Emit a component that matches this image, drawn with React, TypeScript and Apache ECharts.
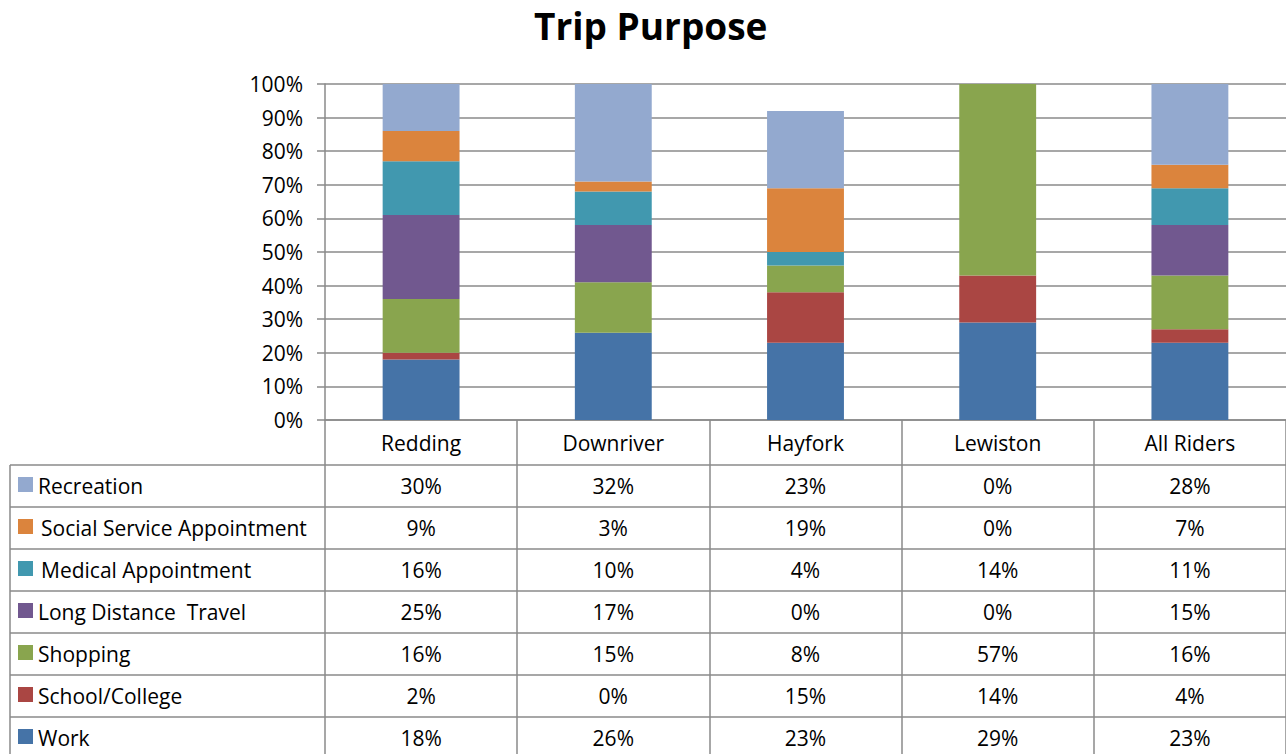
import React, { useEffect, useRef } from "react";
import * as echarts from "echarts";

const title = "Trip Purpose";
const categories = ["Redding", "Downriver", "Hayfork", "Lewiston", "All Riders"];
const yTicks = [0, 10, 20, 30, 40, 50, 60, 70, 80, 90, 100];

// stacked bottom to top
const work = [18, 26, 23, 29, 23];
const school = [2, 0, 15, 14, 4];
const shopping = [16, 15, 8, 57, 16];
const longDistance = [25, 17, 0, 0, 15];
const medical = [16, 10, 4, 14, 11];
const social = [9, 3, 19, 0, 7];
const recreation = [30, 32, 23, 0, 28];

const seriesNames = [
  "Work",
  "School/College",
  "Shopping",
  "Long Distance  Travel",
  "Medical Appointment",
  "Social Service Appointment",
  "Recreation",
];
const seriesData = [work, school, shopping, longDistance, medical, social, recreation];
const colors = ["#4573A7", "#AA4643", "#89A54E", "#71588F", "#4198AF", "#DB843D", "#93A9CF"];
const labelIndent = [0, 0, 0, 0, 3, 3, 0];

const FONT = "'Open Sans', sans-serif";
const FS = 21;
const GRID_COLOR = "#8a8a8a";

export default function App() {
  const ref = useRef<HTMLDivElement>(null);
  useEffect(() => {
    if (!ref.current) return;
    const chart = echarts.init(ref.current, null, { renderer: "svg" });
    const gridLeft = 325;
    const gridTop = 84;
    const gridBottomY = 420;
    const H = 754;
    const W = 1286;
    const option: any = {
      animation: false,
      backgroundColor: "#ffffff",
      title: {
        text: title,
        left: 529,
        top: 2,
        textStyle: { fontFamily: FONT, fontSize: 37, fontWeight: "bold", color: "#000" },
      },
      grid: { left: gridLeft, right: 0, top: gridTop, bottom: H - gridBottomY, containLabel: false },
      xAxis: {
        type: "category",
        data: categories,
        axisLine: { show: true, lineStyle: { color: GRID_COLOR, width: 1.5 } },
        axisTick: { show: true, interval: 0, length: H - gridBottomY, lineStyle: { color: GRID_COLOR, width: 1.5 } },
        axisLabel: { interval: 0, margin: 12, fontFamily: FONT, fontSize: FS, color: "#000" },
      },
      yAxis: {
        type: "value",
        min: yTicks[0],
        max: yTicks[yTicks.length - 1],
        interval: 10,
        axisLine: { show: true, lineStyle: { color: GRID_COLOR, width: 1.5 } },
        axisTick: { show: true, length: 8, lineStyle: { color: GRID_COLOR, width: 1.5 } },
        splitLine: { show: true, lineStyle: { color: GRID_COLOR, width: 1.5 } },
        axisLabel: { formatter: "{value}%", margin: 22, fontFamily: FONT, fontSize: FS, color: "#000" },
      },
      series: seriesNames.map((name, i) => ({
        name,
        type: "bar",
        stack: "total",
        barWidth: "40%",
        clip: true,
        data: seriesData[i],
        itemStyle: { color: colors[i] },
      })),
    };
    chart.setOption(option);

    // data table
    const graphics: any[] = [];
    const rowH = 42;
    const tableTop = 465;
    const nRows = seriesNames.length;
    for (let r = 0; r < nRows; r++) {
      const y = tableTop + r * rowH;
      graphics.push({
        type: "line",
        shape: { x1: 10, y1: y, x2: W, y2: y },
        style: { stroke: GRID_COLOR, lineWidth: 1.5 },
      });
    }
    graphics.push({
      type: "line",
      shape: { x1: 10, y1: tableTop, x2: 10, y2: H },
      style: { stroke: GRID_COLOR, lineWidth: 1.5 },
    });
    for (let r = 0; r < nRows; r++) {
      const si = nRows - 1 - r;
      const cy = tableTop + r * rowH + rowH / 2;
      graphics.push({
        type: "rect",
        shape: { x: 18, y: cy - 9, width: 15, height: 15 },
        style: { fill: colors[si] },
      });
      graphics.push({
        type: "text",
        x: 38 + labelIndent[si],
        y: cy,
        style: {
          text: seriesNames[si],
          fontFamily: FONT,
          fontSize: FS,
          fill: "#000",
          verticalAlign: "middle",
          align: "left",
        },
      });
      categories.forEach((c, ci) => {
        const cx = chart.convertToPixel({ xAxisIndex: 0 }, c) as number;
        graphics.push({
          type: "text",
          x: cx,
          y: cy,
          style: {
            text: seriesData[si][ci] + "%",
            fontFamily: FONT,
            fontSize: FS,
            fill: "#000",
            verticalAlign: "middle",
            align: "center",
          },
        });
      });
    }
    chart.setOption({ graphic: graphics });
    return () => chart.dispose();
  }, []);
  return (
    <div
      ref={ref}
      style={{ position: "absolute", left: 0, top: 0, width: 1286, height: 754 }}
    />
  );
}
